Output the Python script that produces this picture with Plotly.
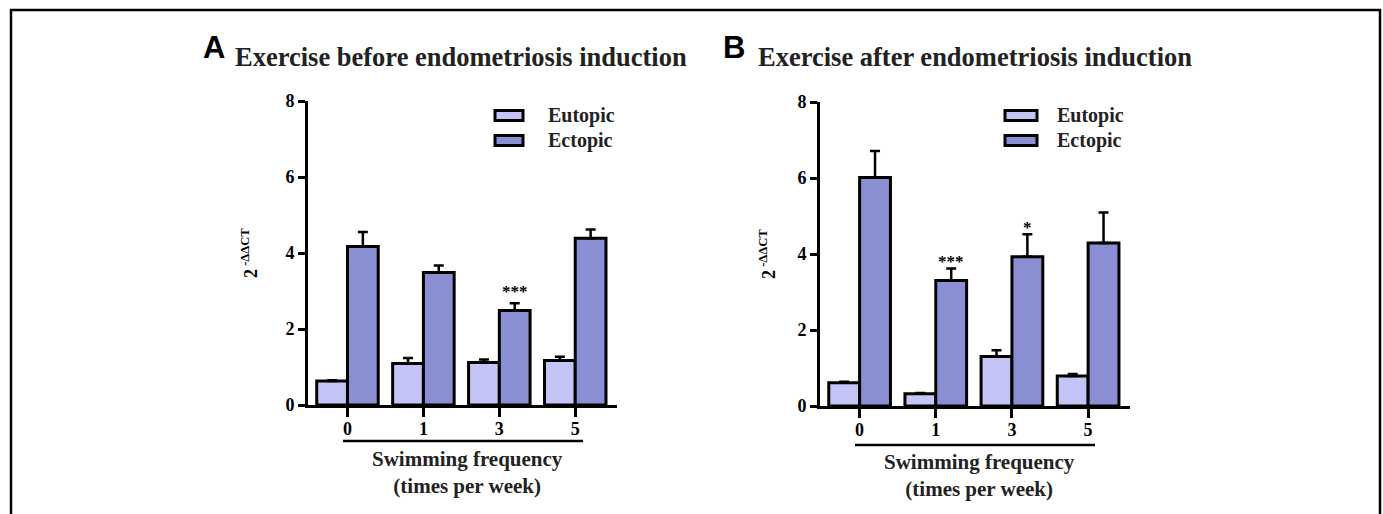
import plotly.graph_objects as go

W, H = 1383, 514

categories = ["0", "1", "3", "5"]
series_names = ["Eutopic", "Ectopic"]

# Panel A: exercise before endometriosis induction
a_eutopic = [0.63, 1.09, 1.12, 1.17]
a_eutopic_err = [0.02, 0.15, 0.08, 0.1]
a_ectopic = [4.17, 3.49, 2.49, 4.39]
a_ectopic_err = [0.38, 0.18, 0.19, 0.23]

# Panel B: exercise after endometriosis induction
b_eutopic = [0.61, 0.32, 1.3, 0.79]
b_eutopic_err = [0.03, 0.02, 0.17, 0.05]
b_ectopic = [6.01, 3.3, 3.93, 4.29]
b_ectopic_err = [0.7, 0.32, 0.59, 0.8]

colors = ["#C4C4F6", "#8A8ED2"]
titles = ["Exercise before endometriosis induction", "Exercise after endometriosis induction"]
letters = ["A", "B"]
xlabel = "Swimming frequency<br>(times per week)"
ylabel = "2<sup> -ΔΔCT</sup>"
y_ticks = [0, 2, 4, 6, 8]
stars_a = {"3": "***"}
stars_b = {"1": "***", "3": "*"}

SERIF = "Liberation Serif"
BARGAP = 0.19


def px(x):
    return x / W


def py(y):
    return 1 - y / H


fig = go.Figure()

panels = [
    dict(eu=a_eutopic, eue=a_eutopic_err, ec=a_ectopic, ece=a_ectopic_err,
         x0=308, x1=617, y0=101, y1=405, stars=stars_a, star_shift=0),
    dict(eu=b_eutopic, eue=b_eutopic_err, ec=b_ectopic, ece=b_ectopic_err,
         x0=820, x1=1130, y0=102, y1=406, stars=stars_b, star_shift=-5),
]

for i, p in enumerate(panels):
    xa = "x" if i == 0 else "x2"
    ya = "y" if i == 0 else "y2"
    for name, vals, errs, col in [
        (series_names[0], p["eu"], p["eue"], colors[0]),
        (series_names[1], p["ec"], p["ece"], colors[1]),
    ]:
        fig.add_trace(go.Bar(
            x=categories, y=vals, name=name, xaxis=xa, yaxis=ya,
            marker=dict(color=col, line=dict(color="black", width=3)),
            error_y=dict(type="data", array=errs, arrayminus=[0] * len(errs),
                         symmetric=False, color="black", thickness=2.5, width=5),
            showlegend=False, hoverinfo="skip",
        ))

layout_axes = {}
for i, p in enumerate(panels):
    sfx = "" if i == 0 else "2"
    layout_axes["xaxis" + sfx] = dict(
        domain=[px(p["x0"]), px(p["x1"])],
        anchor="y" + sfx,
        type="category",
        range=[-0.52, 3.55],
        showline=True, linecolor="black", linewidth=3,
        ticks="outside", ticklen=9, tickwidth=2.5, tickcolor="black",
        ticklabelstandoff=-4,
        tickfont=dict(family=SERIF, size=18, color="black", weight="bold"),
        showgrid=False, zeroline=False, fixedrange=True, automargin=False,
    )
    layout_axes["yaxis" + sfx] = dict(
        domain=[py(p["y1"]), py(p["y0"])],
        anchor="x" + sfx,
        range=[0, 8],
        tickvals=y_ticks,
        showline=True, linecolor="black", linewidth=3,
        ticks="outside", ticklen=7, tickwidth=2.5, tickcolor="black",
        tickfont=dict(family=SERIF, size=18, color="black", weight="bold"),
        showgrid=False, zeroline=False, fixedrange=True, automargin=False,
    )

annotations = []
shapes = []

# frame
shapes.append(dict(type="path", xref="paper", yref="paper",
                   path=f"M {px(11)} 0 L {px(11)} {py(10)} L {px(1380)} {py(10)} L {px(1380)} 0",
                   line=dict(color="black", width=2.5)))

letter_x = [201, 721]
title_x = [233, 756]
ylab_x = [249, 767]
legend_box = [(495, 523), (1005, 1037)]
legend_text_x = [546, 1055]
under_line = [(343, 583, 441), (855, 1095, 445)]
xlab_center = [467, 979]
xlab_y = [472, 475]

off = (1 - BARGAP) / 4

for i, p in enumerate(panels):
    sfx = "" if i == 0 else "2"
    annotations.append(dict(text=f"<b>{letters[i]}</b>", xref="paper", yref="paper",
                            x=px(letter_x[i]), y=py(47), xanchor="left", yanchor="middle",
                            showarrow=False, font=dict(family="Liberation Sans", size=31, color="black")))
    annotations.append(dict(text=f"<b>{titles[i]}</b>", xref="paper", yref="paper",
                            x=px(title_x[i]), y=py(57), xanchor="left", yanchor="middle",
                            showarrow=False, font=dict(family=SERIF, size=26.5, color="#222")))
    annotations.append(dict(text=f"<b>{ylabel}</b>", xref="paper", yref="paper",
                            x=px(ylab_x[i]), y=py((p["y0"] + p["y1"]) / 2), xanchor="center",
                            yanchor="middle", textangle=-90, showarrow=False,
                            font=dict(family=SERIF, size=18, color="black")))
    # legend
    bx0, bx1 = legend_box[i]
    for k, (nm, col) in enumerate(zip(series_names, colors)):
        yc = 115.5 + 25 * k
        shapes.append(dict(type="rect", xref="paper", yref="paper",
                           x0=px(bx0), x1=px(bx1), y0=py(yc + 5), y1=py(yc - 5),
                           fillcolor=col, line=dict(color="black", width=3)))
        annotations.append(dict(text=f"<b>{nm}</b>", xref="paper", yref="paper",
                                x=px(legend_text_x[i]), y=py(yc), xanchor="left", yanchor="middle",
                                showarrow=False, font=dict(family=SERIF, size=20, color="#222")))
    # x label group line + text
    lx0, lx1, ly = under_line[i]
    shapes.append(dict(type="line", xref="paper", yref="paper",
                       x0=px(lx0), x1=px(lx1), y0=py(ly), y1=py(ly),
                       line=dict(color="black", width=2.5)))
    annotations.append(dict(text=f"<b>{xlabel}</b>", xref="paper", yref="paper",
                            x=px(xlab_center[i]), y=py(xlab_y[i]), xanchor="center", yanchor="middle",
                            showarrow=False, font=dict(family=SERIF, size=21, color="#222")))
    # significance stars over ectopic bars
    for cat, s in p["stars"].items():
        j = categories.index(cat)
        top = p["ec"][j] + p["ece"][j]
        annotations.append(dict(text=f"<b>{s}</b>", xref="x" + sfx, yref="y" + sfx,
                                x=j + off, y=top, xanchor="center", yanchor="bottom",
                                yshift=p["star_shift"], showarrow=False,
                                font=dict(family=SERIF, size=17, color="black")))

fig.update_layout(
    template="none",
    width=W, height=H, autosize=False,
    margin=dict(l=0, r=0, t=0, b=0, pad=0),
    paper_bgcolor="white", plot_bgcolor="white",
    barmode="group", bargap=BARGAP, bargroupgap=0,
    showlegend=False,
    annotations=annotations, shapes=shapes,
    **layout_axes,
)

fig.write_html(
    "out.html",
    config=dict(displayModeBar=False),
    post_script="document.body.style.margin='0';document.body.style.overflow='hidden';",
)
